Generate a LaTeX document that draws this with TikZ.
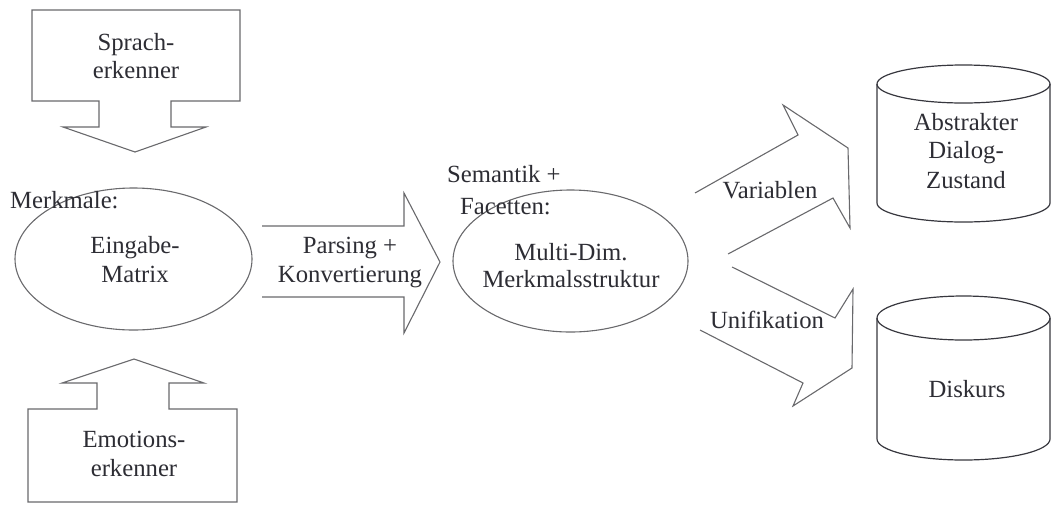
\documentclass[tikz,border=0pt]{standalone}
\usepackage{fontspec}
\setmainfont{Liberation Serif}
\newfontfamily\labelfont{Liberation Serif}
\usetikzlibrary{shapes.geometric}
\definecolor{strokegray}{RGB}{105,105,108}
\definecolor{drumline}{RGB}{55,55,62}
\definecolor{inkgray}{RGB}{45,45,52}
\begin{document}
\begin{tikzpicture}[x=1pt,y=-1pt,
  outline/.style={draw=strokegray,line width=1.1pt,line join=miter},
  drum/.style={draw=drumline,line width=1.2pt},
  oval/.style={draw=strokegray,line width=1.1pt,ellipse,inner sep=0pt},
  label/.style={text=inkgray,inner sep=0pt,anchor=base,
    font=\labelfont\fontsize{24.7pt}{29pt}\selectfont},
  leftlabel/.style={label,anchor=base west}]
\useasboundingbox (0,0) rectangle (1051,504);

% block arrow from the speech recognizer down to the input matrix
\draw[outline] (32,10) -- (240,10) -- (240,101) -- (171,101) -- (171,127)
  -- (206,127) -- (135,152) -- (63,127) -- (99,127) -- (99,101) -- (32,101) -- cycle;
\node[label] (sprach1) at (136,50) {Sprach-};
\node[label] (sprach2) at (136,78) {erkenner};

% block arrow from the emotion recognizer up to the input matrix
\draw[outline] (28,502) -- (237,502) -- (237,409) -- (169,409) -- (169,383)
  -- (204,383) -- (134,359) -- (62,383) -- (97,383) -- (97,409) -- (28,409) -- cycle;
\node[label] (emo1) at (134,447) {Emotions-};
\node[label] (emo2) at (134,476) {erkenner};

% input matrix
\node[oval,minimum width=237pt,minimum height=142pt] (eingabe) at (133.5,259) {};
\node[leftlabel] (merkmale) at (10,208) {Merkmale:};
\node[label] (eingabe1) at (135,253) {Eingabe-};
\node[label] (eingabe2) at (135,282) {Matrix};

% parsing arrow
\draw[outline] (262,226) -- (404,226) -- (404,193) -- (440,262)
  -- (404,333) -- (404,297) -- (262,297);
\node[label] (parsing1) at (350,253) {Parsing +};
\node[label] (parsing2) at (350,282) {Konvertierung};

% multi-dimensional feature structure
\node[oval,minimum width=235pt,minimum height=142pt] (struktur) at (570.5,261) {};
\node[leftlabel] (semantik) at (447,182) {Semantik +};
\node[leftlabel] (facetten) at (460,214) {Facetten:};
\node[label] (struktur1) at (571,260) {Multi-Dim.};
\node[label] (struktur2) at (571,287) {Merkmalsstruktur};

% arrows towards the two stores
\draw[outline] (695,193) -- (798,135) -- (783,105) -- (848,148)
  -- (850,228) -- (833,198) -- (728,254);
\node[label] (variablen) at (770,198) {Variablen};
\draw[outline] (732,267) -- (835,318) -- (853,289) -- (852,368)
  -- (793,406) -- (803,383) -- (700,330);
\node[label] (unifikation) at (767,328) {Unifikation};

% abstract dialogue state store
\draw[drum] (963.5,84) ellipse [x radius=86.5,y radius=19];
\draw[drum] (877,84) -- (877,203) arc [start angle=180,end angle=0,
  x radius=86.5,y radius=19] -- (1050,84);
\node[label] (zustand1) at (966,130) {Abstrakter};
\node[label] (zustand2) at (966,158) {Dialog-};
\node[label] (zustand3) at (966,188) {Zustand};

% discourse store
\draw[drum] (963.5,318) ellipse [x radius=86.5,y radius=22];
\draw[drum] (877,318) -- (877,439) arc [start angle=180,end angle=0,
  x radius=86.5,y radius=21] -- (1050,318);
\node[label] (diskurs) at (967,397) {Diskurs};
\end{tikzpicture}
\end{document}
